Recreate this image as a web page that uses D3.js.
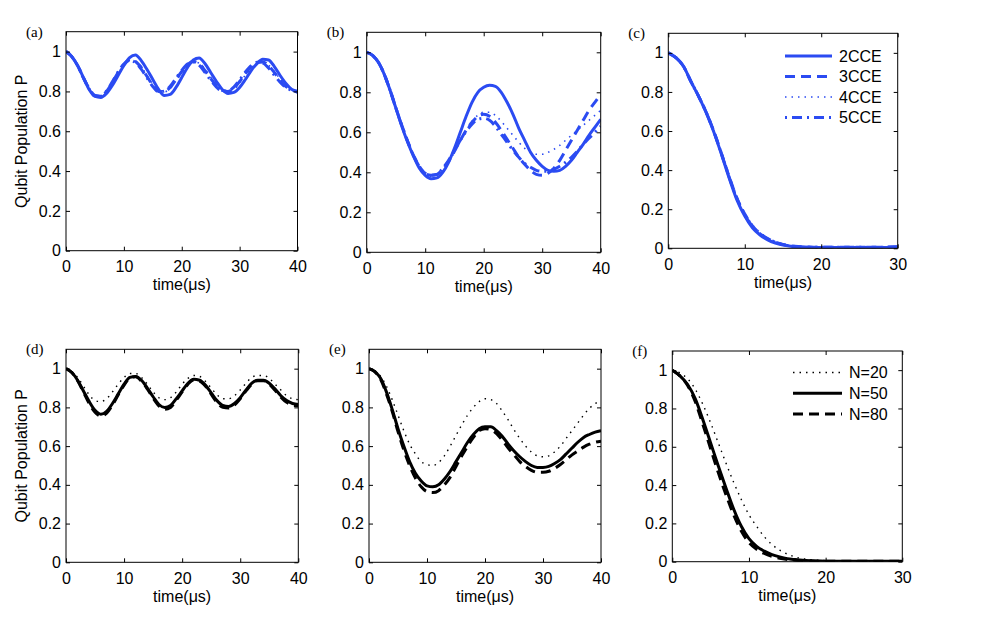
<!DOCTYPE html>
<html lang="en">
<head>
    <meta charset="UTF-8">
    <script type="text/javascript" src="https://d3js.org/d3.v7.min.js"></script>
    <title>Qubit population</title>
    <style>
        body { margin: 0; background: #fff; }
        text { font-family: "Liberation Sans", Arial, Helvetica, sans-serif; }
        .plabel { font-family: "Liberation Serif", "Times New Roman", serif; }
    </style>
</head>
<body>
    <script type="text/javascript">
        // time grids (microseconds)
        const t40 = [0,1,2,3,4,5,6,7,8,9,10,11,12,13,14,15,16,17,18,19,20,21,22,23,24,25,26,27,28,29,30,31,32,33,34,35,36,37,38,39,40];
        const t30 = [0,1,2,3,4,5,6,7,8,9,10,11,12,13,14,15,16,17,18,19,20,21,22,23,24,25,26,27,28,29,30];

        const xTicks40 = [0, 10, 20, 30, 40];
        const xTicks30 = [0, 10, 20, 30];
        const yTicks = [0, 0.2, 0.4, 0.6, 0.8, 1];

        const cceNames = ['2CCE', '3CCE', '4CCE', '5CCE'];
        const nNames = ['N=20', 'N=50', 'N=80'];

        // panel (a)
        const a2CCE = [1.0,0.975,0.93,0.87,0.81,0.775,0.77,0.79,0.83,0.88,0.93,0.97,0.983,0.955,0.91,0.86,0.81,0.78,0.785,0.82,0.87,0.92,0.958,0.968,0.94,0.895,0.85,0.81,0.79,0.795,0.82,0.86,0.905,0.94,0.962,0.958,0.925,0.88,0.84,0.81,0.795];
        const a3CCE = [1.0,0.975,0.93,0.87,0.815,0.78,0.775,0.80,0.845,0.895,0.935,0.958,0.95,0.92,0.875,0.83,0.80,0.80,0.82,0.86,0.90,0.935,0.95,0.94,0.905,0.865,0.83,0.805,0.80,0.815,0.85,0.89,0.925,0.945,0.948,0.93,0.895,0.855,0.825,0.81,0.80];
        const a4CCE = [1.0,0.976,0.932,0.872,0.816,0.782,0.778,0.80,0.842,0.89,0.93,0.955,0.952,0.925,0.88,0.835,0.803,0.798,0.815,0.852,0.893,0.93,0.948,0.942,0.912,0.872,0.835,0.81,0.80,0.81,0.842,0.882,0.918,0.942,0.948,0.932,0.90,0.862,0.83,0.812,0.803];
        const a5CCE = [1.0,0.975,0.93,0.868,0.812,0.778,0.776,0.802,0.848,0.898,0.938,0.956,0.945,0.912,0.868,0.825,0.798,0.802,0.826,0.866,0.906,0.938,0.948,0.932,0.896,0.856,0.822,0.802,0.802,0.822,0.858,0.898,0.93,0.946,0.942,0.918,0.882,0.846,0.82,0.806,0.80];

        // panel (b)
        const b2CCE = [1.0,0.985,0.95,0.89,0.81,0.72,0.63,0.55,0.48,0.42,0.385,0.368,0.372,0.40,0.45,0.52,0.60,0.68,0.75,0.80,0.825,0.835,0.83,0.80,0.75,0.69,0.62,0.56,0.50,0.46,0.43,0.41,0.405,0.41,0.43,0.46,0.50,0.54,0.585,0.625,0.665];
        const b3CCE = [1.0,0.985,0.95,0.89,0.81,0.72,0.635,0.555,0.485,0.43,0.395,0.385,0.39,0.415,0.455,0.505,0.56,0.61,0.65,0.68,0.69,0.68,0.65,0.61,0.565,0.52,0.475,0.44,0.41,0.39,0.385,0.395,0.42,0.46,0.51,0.56,0.61,0.66,0.71,0.75,0.79];
        const b4CCE = [1.0,0.985,0.95,0.89,0.81,0.72,0.632,0.552,0.482,0.425,0.39,0.38,0.385,0.41,0.45,0.50,0.555,0.61,0.655,0.685,0.70,0.70,0.685,0.655,0.62,0.585,0.55,0.52,0.50,0.49,0.49,0.50,0.515,0.535,0.56,0.585,0.61,0.635,0.66,0.685,0.71];
        const b5CCE = [1.0,0.985,0.95,0.89,0.81,0.72,0.634,0.554,0.484,0.428,0.392,0.385,0.39,0.42,0.46,0.51,0.56,0.605,0.64,0.665,0.67,0.66,0.63,0.59,0.55,0.51,0.475,0.445,0.425,0.41,0.405,0.405,0.415,0.43,0.45,0.475,0.505,0.54,0.57,0.60,0.63];

        // panel (c)
        const c2CCE = [1.0,0.975,0.93,0.85,0.775,0.69,0.59,0.475,0.355,0.245,0.165,0.105,0.068,0.043,0.027,0.017,0.011,0.007,0.005,0.004,0.004,0.004,0.004,0.004,0.004,0.004,0.004,0.004,0.004,0.005,0.006];
        const c3CCE = [1.0,0.975,0.93,0.85,0.775,0.692,0.594,0.48,0.362,0.255,0.175,0.115,0.076,0.05,0.032,0.02,0.013,0.009,0.007,0.006,0.005,0.005,0.005,0.005,0.005,0.005,0.005,0.005,0.006,0.007,0.008];
        const c4CCE = [1.0,0.975,0.93,0.85,0.776,0.693,0.596,0.483,0.366,0.26,0.18,0.12,0.08,0.053,0.034,0.022,0.014,0.01,0.008,0.006,0.005,0.005,0.005,0.005,0.005,0.005,0.005,0.005,0.006,0.007,0.009];
        const c5CCE = [1.0,0.975,0.93,0.85,0.775,0.691,0.592,0.478,0.36,0.252,0.172,0.112,0.074,0.048,0.031,0.019,0.012,0.008,0.006,0.005,0.005,0.005,0.005,0.005,0.005,0.005,0.005,0.005,0.005,0.006,0.007];

        // panel (d)
        const dN20 = [1.0,0.985,0.955,0.91,0.865,0.835,0.83,0.845,0.88,0.92,0.955,0.975,0.975,0.955,0.92,0.88,0.85,0.84,0.85,0.88,0.92,0.95,0.965,0.96,0.935,0.90,0.865,0.845,0.845,0.86,0.89,0.925,0.955,0.965,0.965,0.95,0.92,0.89,0.86,0.845,0.84];
        const dN50 = [1.0,0.98,0.94,0.885,0.83,0.785,0.765,0.78,0.82,0.87,0.92,0.955,0.96,0.94,0.90,0.855,0.815,0.80,0.81,0.845,0.885,0.925,0.945,0.94,0.915,0.875,0.835,0.81,0.805,0.82,0.85,0.89,0.925,0.94,0.94,0.925,0.895,0.86,0.835,0.82,0.815];
        const dN80 = [1.0,0.98,0.938,0.88,0.82,0.775,0.755,0.77,0.812,0.865,0.915,0.952,0.958,0.935,0.895,0.848,0.808,0.79,0.80,0.838,0.88,0.92,0.942,0.936,0.91,0.868,0.826,0.80,0.797,0.812,0.845,0.885,0.92,0.938,0.938,0.92,0.888,0.853,0.826,0.812,0.808];

        // panel (e)
        const eN20 = [1.0,0.99,0.96,0.91,0.84,0.76,0.68,0.61,0.56,0.52,0.505,0.50,0.515,0.55,0.60,0.655,0.71,0.76,0.80,0.83,0.845,0.84,0.82,0.78,0.735,0.685,0.64,0.60,0.57,0.55,0.545,0.55,0.57,0.60,0.64,0.68,0.72,0.76,0.795,0.82,0.835];
        const eN50 = [1.0,0.985,0.95,0.88,0.79,0.69,0.60,0.52,0.46,0.42,0.395,0.39,0.40,0.43,0.47,0.52,0.57,0.62,0.66,0.69,0.70,0.70,0.68,0.65,0.61,0.575,0.545,0.52,0.50,0.49,0.49,0.495,0.51,0.53,0.56,0.59,0.62,0.645,0.66,0.672,0.68];
        const eN80 = [1.0,0.985,0.945,0.87,0.78,0.675,0.58,0.50,0.435,0.39,0.365,0.36,0.37,0.40,0.44,0.495,0.55,0.60,0.645,0.68,0.69,0.685,0.665,0.63,0.59,0.555,0.52,0.495,0.475,0.465,0.465,0.47,0.485,0.505,0.53,0.555,0.575,0.595,0.61,0.62,0.625];

        // panel (f)
        const fN20 = [1.0,0.985,0.955,0.90,0.82,0.725,0.62,0.515,0.415,0.325,0.245,0.185,0.13,0.09,0.06,0.04,0.025,0.016,0.011,0.008,0.006,0.005,0.004,0.004,0.004,0.004,0.004,0.004,0.004,0.004,0.004];
        const fN50 = [1.0,0.97,0.925,0.85,0.74,0.62,0.50,0.385,0.275,0.185,0.12,0.08,0.055,0.037,0.025,0.016,0.011,0.007,0.005,0.004,0.003,0.003,0.003,0.003,0.003,0.003,0.003,0.003,0.003,0.003,0.003];
        const fN80 = [1.0,0.97,0.92,0.835,0.715,0.59,0.465,0.35,0.245,0.16,0.10,0.065,0.043,0.028,0.018,0.012,0.008,0.005,0.004,0.003,0.003,0.003,0.003,0.003,0.003,0.003,0.003,0.003,0.003,0.003,0.003];

        const BLUE = '#2b4bf2';
        const BLACK = '#000';

        const styles = {
            solid:   { dash: null, width: 3 },
            dashed:  { dash: '10,6', width: 3 },
            dotted:  { dash: '1.5,5', width: 1.6 },
            dashdot: { dash: '2,5,10,5', width: 3 }
        };

        const width = 981;
        const height = 633;

        const svg = d3.select('body')
            .append('svg')
            .attr('width', width)
            .attr('height', height);

        const panels = [
            { label: '(a)', box: [66, 297.5, 31.7, 250.7], t: t40, ticks: xTicks40, color: BLUE, yLabel: true,
              series: [[a2CCE, 'solid'], [a3CCE, 'dashed'], [a4CCE, 'dotted'], [a5CCE, 'dashdot']] },
            { label: '(b)', box: [366.7, 600.7, 32.3, 252.3], t: t40, ticks: xTicks40, color: BLUE,
              series: [[b2CCE, 'solid'], [b3CCE, 'dashed'], [b4CCE, 'dotted'], [b5CCE, 'dashdot']] },
            { label: '(c)', box: [668.3, 897.7, 33.3, 248.3], t: t30, ticks: xTicks30, color: BLUE,
              series: [[c2CCE, 'solid'], [c3CCE, 'dashed'], [c4CCE, 'dotted'], [c5CCE, 'dashdot']],
              legend: { names: cceNames, styles: ['solid', 'dashed', 'dotted', 'dashdot'], x0: 785, x1: 832, y: 56, dy: 20.5 } },
            { label: '(d)', box: [66, 298.3, 349.3, 562.3], t: t40, ticks: xTicks40, color: BLACK, yLabel: true,
              series: [[dN20, 'dotted'], [dN50, 'solid'], [dN80, 'dashed']] },
            { label: '(e)', box: [369, 601, 349.3, 562.3], t: t40, ticks: xTicks40, color: BLACK,
              series: [[eN20, 'dotted'], [eN50, 'solid'], [eN80, 'dashed']] },
            { label: '(f)', box: [672.3, 902.3, 351, 561.7], t: t30, ticks: xTicks30, color: BLACK,
              series: [[fN20, 'dotted'], [fN50, 'solid'], [fN80, 'dashed']],
              legend: { names: nNames, styles: ['dotted', 'solid', 'dashed'], x0: 793, x1: 842, y: 372.5, dy: 20.8 } }
        ];

        panels.forEach((p, i) => {
            const [left, right, top, bottom] = p.box;
            const x = d3.scaleLinear().domain([0, p.ticks[p.ticks.length - 1]]).range([left, right]);
            const y = d3.scaleLinear().domain([0, 1.1]).range([bottom, top]);
            const g = svg.append('g');

            g.append('clipPath').attr('id', 'clip' + i)
                .append('rect')
                .attr('x', left).attr('y', top)
                .attr('width', right - left).attr('height', bottom - top);

            const line = d3.line()
                .x(d => x(d[0]))
                .y(d => y(d[1]))
                .curve(d3.curveMonotoneX);

            p.series.forEach(([vals, st]) => {
                const s = styles[st];
                g.append('path')
                    .datum(p.t.map((tv, k) => [tv, vals[k]]))
                    .attr('clip-path', `url(#clip${i})`)
                    .attr('fill', 'none')
                    .attr('stroke', p.color)
                    .attr('stroke-width', p.color === BLACK && st === 'dotted' ? 1.4 : s.width)
                    .attr('stroke-dasharray', s.dash)
                    .attr('d', line);
            });

            // axes, ticks pointing inward on all four sides
            const fmt = d => d3.format('~g')(d);
            g.append('g').attr('transform', `translate(0,${bottom})`)
                .call(d3.axisBottom(x).tickValues(p.ticks).tickSize(-4).tickPadding(10).tickFormat(fmt));
            g.append('g').attr('transform', `translate(0,${top})`)
                .call(d3.axisTop(x).tickValues(p.ticks).tickSize(-4).tickFormat(''));
            g.append('g').attr('transform', `translate(${left},0)`)
                .call(d3.axisLeft(y).tickValues(yTicks).tickSize(-4).tickPadding(5).tickFormat(fmt));
            g.append('g').attr('transform', `translate(${right},0)`)
                .call(d3.axisRight(y).tickValues(yTicks).tickSize(-4).tickFormat(''));

            g.selectAll('.domain').remove();
            g.selectAll('.tick line').attr('stroke', '#000');
            g.selectAll('.tick text')
                .attr('fill', '#000')
                .style('font-size', '16px')
                .style('font-family', '"Liberation Sans", Arial, sans-serif');

            g.append('rect')
                .attr('x', left).attr('y', top)
                .attr('width', right - left).attr('height', bottom - top)
                .attr('fill', 'none')
                .attr('stroke', '#000')
                .attr('stroke-width', 1);

            g.append('text')
                .attr('class', 'plabel')
                .attr('x', left - 40)
                .attr('y', top + 5)
                .style('font-size', '15px')
                .text(p.label);

            g.append('text')
                .attr('x', (left + right) / 2)
                .attr('y', bottom + 39.5)
                .attr('text-anchor', 'middle')
                .style('font-size', '16px')
                .text('time(\u03bcs)');

            if (p.yLabel) {
                g.append('text')
                    .attr('transform', `translate(26.5,${(top + bottom) / 2}) rotate(-90)`)
                    .attr('text-anchor', 'middle')
                    .style('font-size', '16px')
                    .text('Qubit Population P');
            }

            if (p.legend) {
                const L = p.legend;
                L.names.forEach((name, k) => {
                    const s = styles[L.styles[k]];
                    const yy = L.y + k * L.dy;
                    g.append('line')
                        .attr('x1', L.x0).attr('x2', L.x1)
                        .attr('y1', yy).attr('y2', yy)
                        .attr('stroke', p.color)
                        .attr('stroke-width', p.color === BLACK && L.styles[k] === 'dotted' ? 1.4 : s.width)
                        .attr('stroke-dasharray', s.dash);
                    g.append('text')
                        .attr('x', L.x1 + 7)
                        .attr('y', yy)
                        .attr('dy', '0.36em')
                        .style('font-size', '16px')
                        .text(name);
                });
            }
        });
    </script>
</body>
</html>
